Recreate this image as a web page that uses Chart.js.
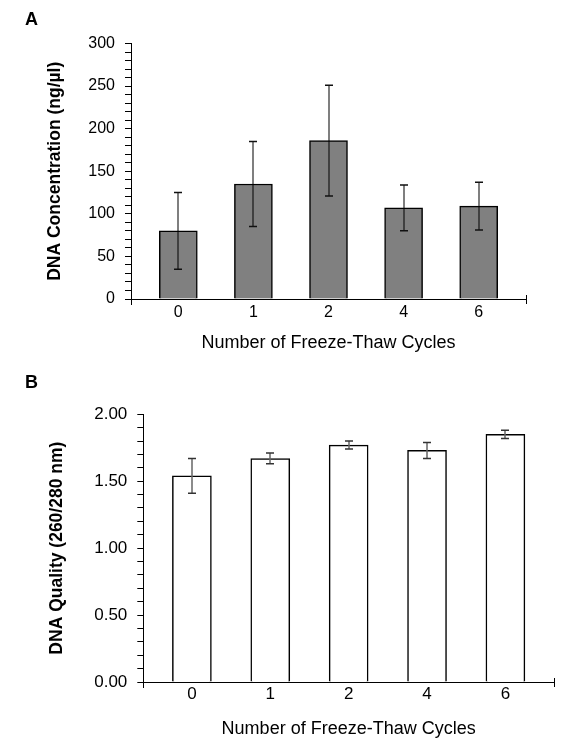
<!DOCTYPE html>
<html><head><meta charset="utf-8">
<script src="https://cdn.jsdelivr.net/npm/chart.js@4.4.0/dist/chart.umd.min.js"></script>
<style>
html,body{margin:0;padding:0;background:#fff;}
#wrap{position:relative;width:564px;height:753px;overflow:hidden;}
canvas{position:absolute;left:0;}
#ca{top:0;} #cb{top:376px;}
.lbl{position:absolute;left:25px;font:bold 18px "Liberation Sans",Arial,sans-serif;line-height:20px;color:#000;}
</style></head><body>
<div id="wrap">
<canvas id="ca" width="564" height="376"></canvas>
<canvas id="cb" width="564" height="377"></canvas>
<div class="lbl" style="top:9px">A</div>
<div class="lbl" style="top:372px">B</div>
</div>
<script>
// ---- data ----
const categories = ['0', '1', '2', '4', '6'];
const concMean = [80, 135, 186, 107, 109];
const concErr = [45, 50, 65, 27, 28];
const qualityMean = [1.54, 1.67, 1.77, 1.73, 1.85];
const qualityErr = [0.13, 0.04, 0.03, 0.06, 0.03];
const concTickLabels = ['0', '50', '100', '150', '200', '250', '300'];
const qualityTickLabels = ['0.00', '0.50', '1.00', '1.50', '2.00'];

Chart.defaults.font.family = '"Liberation Sans", Arial, sans-serif';
Chart.defaults.color = '#000';

const errorBars = {
  id: 'errorBars',
  afterDatasetsDraw(chart, args, opts) {
    const ctx = chart.ctx, meta = chart.getDatasetMeta(0), ys = chart.scales.y;
    const ds = chart.data.datasets[0];
    meta.data.forEach((bar, i) => {
      const v = ds.data[i].y, e = opts.errors[i];
      const x = Math.round(bar.x);
      const yt = ys.getPixelForValue(v + e), yb = ys.getPixelForValue(v - e);
      ctx.save();
      ctx.strokeStyle = opts.whisker; ctx.lineWidth = opts.whiskerWidth;
      ctx.beginPath(); ctx.moveTo(x, yt); ctx.lineTo(x, yb); ctx.stroke();
      ctx.strokeStyle = opts.cap; ctx.lineWidth = opts.capWidth;
      ctx.beginPath();
      ctx.moveTo(x - opts.capHalf, yt); ctx.lineTo(x + opts.capHalf, yt);
      ctx.moveTo(x - opts.capHalf, yb); ctx.lineTo(x + opts.capHalf, yb);
      ctx.stroke();
      ctx.restore();
    });
  }
};

const axisEnds = {
  id: 'axisEnds',
  afterDraw(chart) {
    const ctx = chart.ctx, a = chart.chartArea;
    ctx.save();
    ctx.strokeStyle = '#000'; ctx.lineWidth = 1;
    ctx.beginPath();
    ctx.moveTo(Math.round(a.left) + 0.5, a.bottom); ctx.lineTo(Math.round(a.left) + 0.5, a.bottom + 6);
    ctx.moveTo(Math.round(a.right) + 0.5, a.bottom - 4); ctx.lineTo(Math.round(a.right) + 0.5, a.bottom + 5);
    ctx.stroke();
    ctx.restore();
  }
};

function makeChart(id, cfg) {
  return new Chart(document.getElementById(id), {
    type: 'bar',
    data: {
      datasets: [{
        data: cfg.values.map((v, i) => ({ x: i, y: v })),
        backgroundColor: cfg.fill,
        borderColor: '#000',
        borderWidth: 1.5,
        barThickness: cfg.barW
      }]
    },
    options: {
      responsive: false,
      animation: false,
      devicePixelRatio: 1,
      layout: { padding: cfg.padding },
      plugins: {
        legend: { display: false },
        tooltip: { enabled: false },
        errorBars: cfg.err
      },
      scales: {
        x: {
          type: 'linear',
          offset: false,
          min: -cfg.edge, max: categories.length - 1 + cfg.edge,
          afterBuildTicks(s) { s.ticks = categories.map((c, i) => ({ value: i })); },
          afterFit(s) { s.height = cfg.xH; },
          ticks: {
            autoSkip: false, maxRotation: 0, padding: cfg.xPad,
            font: { size: cfg.tickSize },
            callback: v => categories[v]
          },
          grid: { display: false, drawTicks: false },
          border: { display: true, color: '#000', width: 1 },
          title: { display: true, text: 'Number of Freeze-Thaw Cycles', font: { size: 18 }, color: '#000' }
        },
        y: {
          min: 0, max: cfg.yMax,
          afterFit(s) { s.width = cfg.yW; },
          ticks: {
            stepSize: cfg.step, autoSkip: false, padding: 10,
            font: { size: cfg.tickSize },
            callback: cfg.yLabel
          },
          grid: { drawOnChartArea: false, drawTicks: true, tickLength: 6, color: '#000' },
          border: { display: true, color: '#000', width: 1 },
          title: { display: true, text: cfg.yTitle, font: { size: 17.5, weight: 'bold' }, color: '#000' }
        }
      }
    },
    plugins: [errorBars, axisEnds]
  });
}

makeChart('ca', {
  values: concMean, fill: '#808080', barW: 38, edge: 0.63,
  padding: { top: 43.5, right: 38, bottom: 18.2, left: 40.5 },
  xH: 58.8, yW: 90.5, xPad: 4, tickSize: 16,
  yMax: 300, step: 10,
  yLabel: v => (concTickLabels.includes(String(v)) ? String(v) : ''),
  yTitle: 'DNA Concentration (ng/µl)',
  err: { errors: concErr, whisker: 'rgba(0,0,0,0.5)', whiskerWidth: 2, cap: '#111', capWidth: 1.5, capHalf: 4 }
});

makeChart('cb', {
  values: qualityMean, fill: '#ffffff', barW: 39, edge: 0.62,
  padding: { top: 38.3, right: 10, bottom: 9.2, left: 42.5 },
  xH: 61.8, yW: 100.8, xPad: 2, tickSize: 17,
  yMax: 2, step: 0.1,
  yLabel: v => { const s = Number(v).toFixed(2); return qualityTickLabels.includes(s) ? s : ''; },
  yTitle: 'DNA Quality (260/280 nm)',
  err: { errors: qualityErr, whisker: '#666', whiskerWidth: 1.5, cap: '#333', capWidth: 1.5, capHalf: 4 }
});
</script>
</body></html>
